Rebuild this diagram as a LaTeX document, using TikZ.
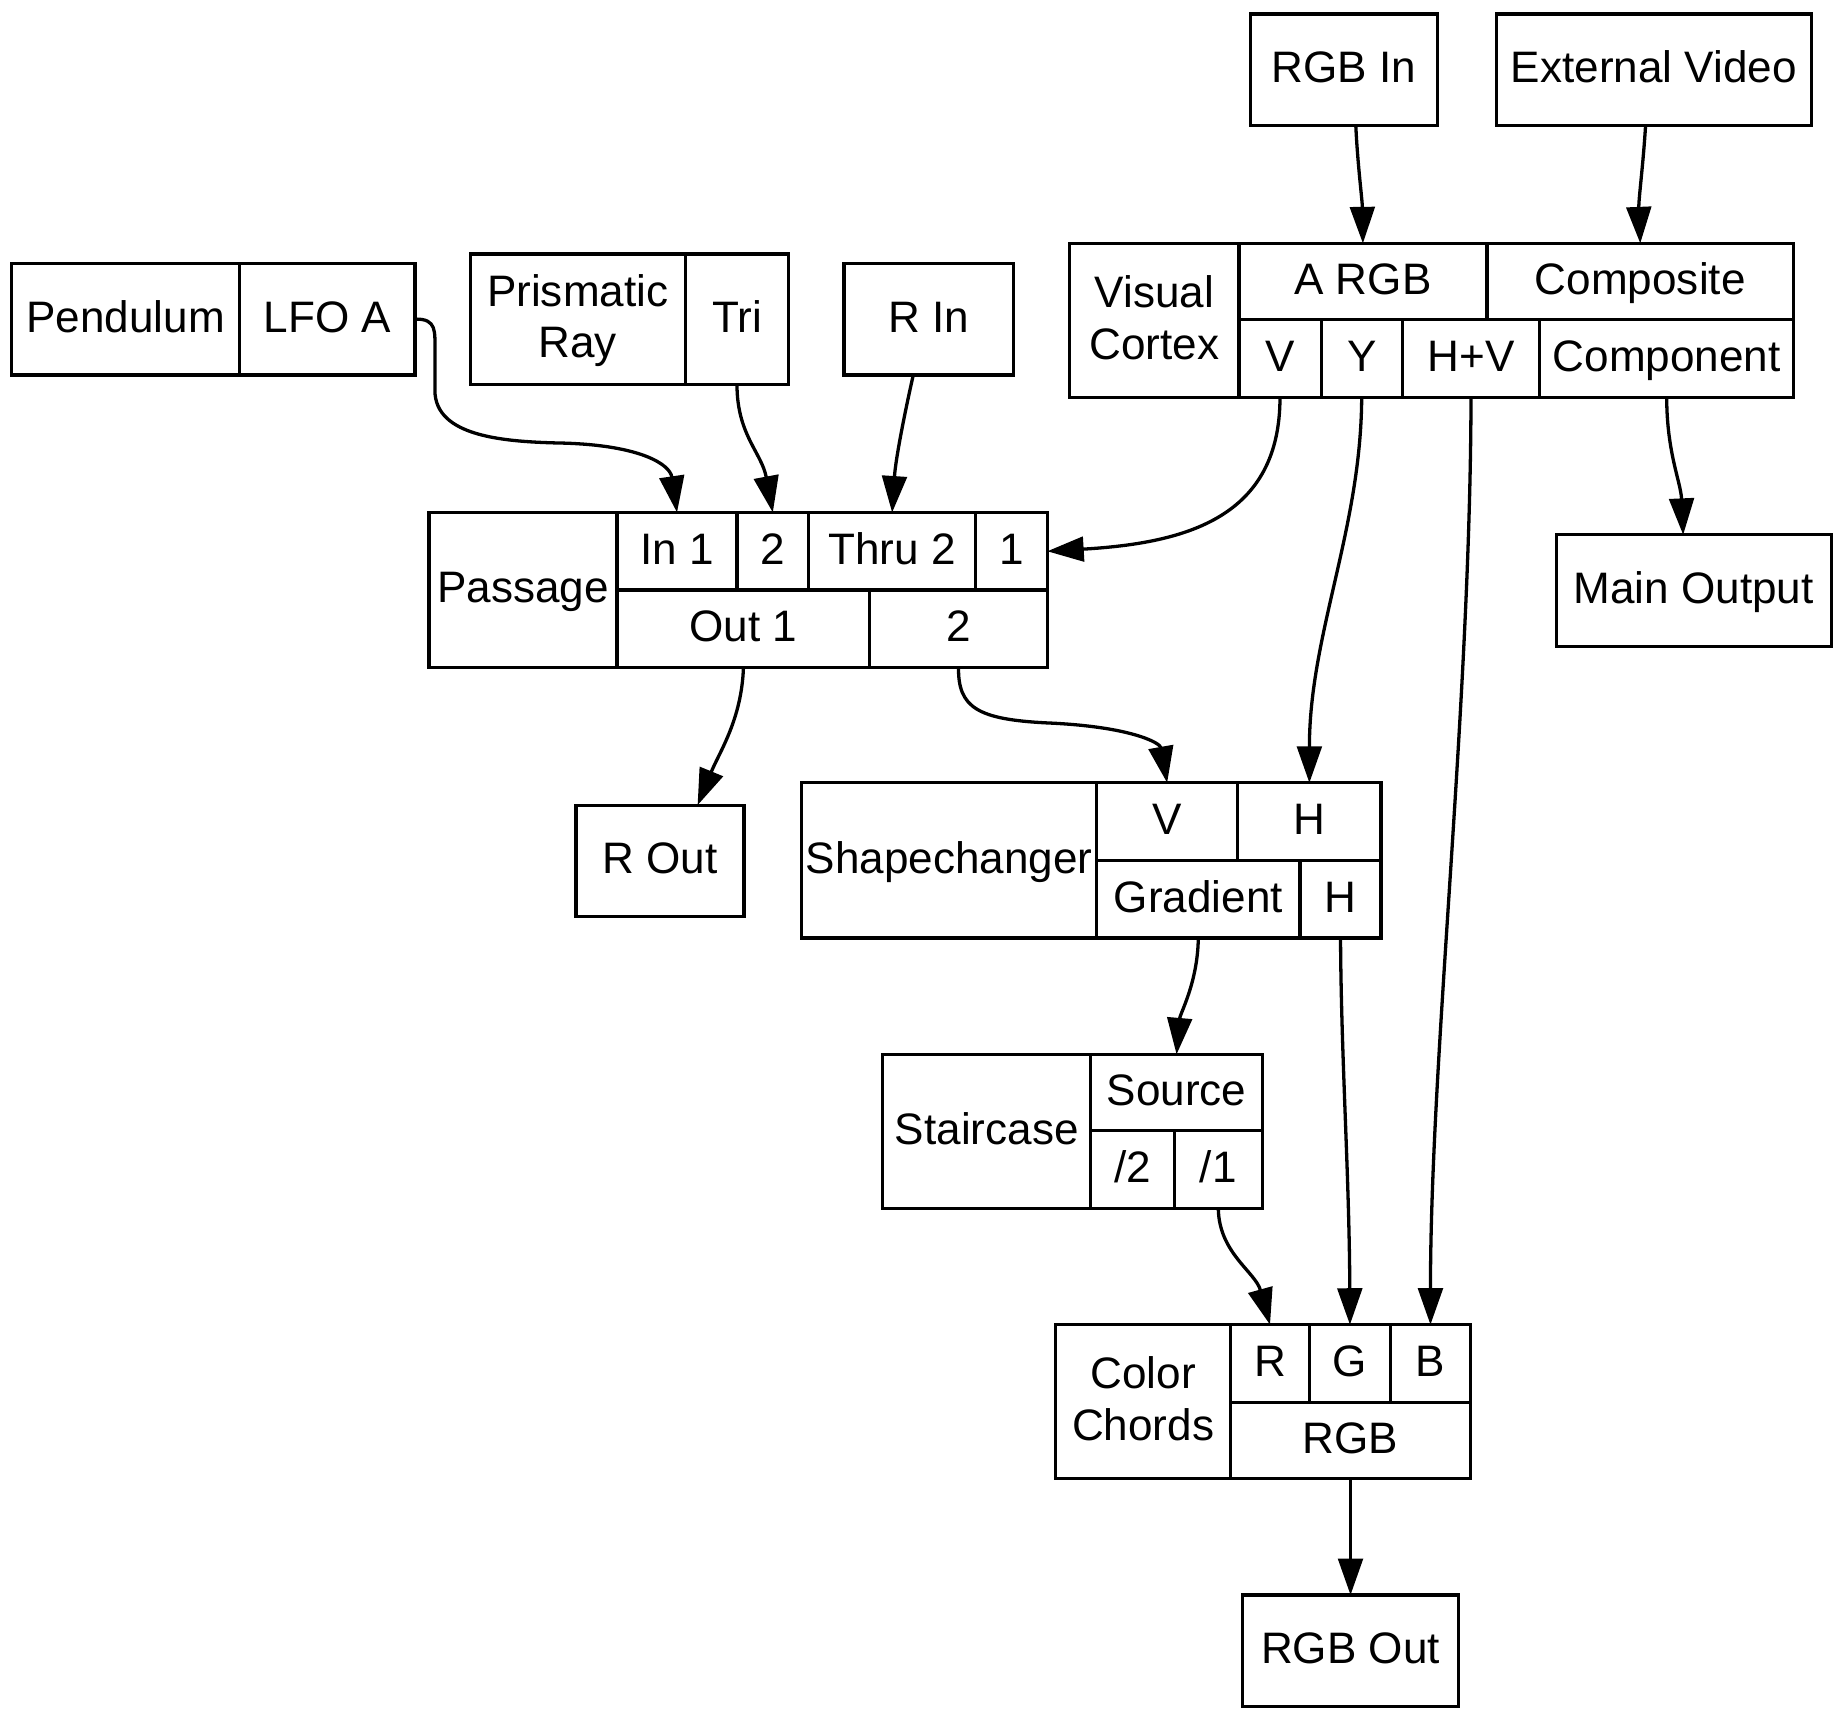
\documentclass[tikz,border=0pt]{standalone}
\usepackage{fontspec}
\setmainfont{Liberation Sans}
\usetikzlibrary{arrows.meta}
\tikzset{
  cell/.style={draw, line width=2.8pt, inner sep=0pt, outer sep=0pt, align=center,
    font=\fontsize{37.5pt}{44pt}\selectfont, text height=27pt, text depth=5pt},
  mcell/.style={draw, line width=2.8pt, inner sep=0pt, outer sep=0pt, align=center,
    font=\fontsize{37.5pt}{44pt}\selectfont, text height=71pt, text depth=5pt},
  edge/.style={line width=2.8pt, -{Triangle[length=31pt,width=21pt]}}
}
\newcommand\rcell[6]{\node[cell, minimum width=#4pt-#2pt, minimum height=#5pt-#3pt]
  (#1) at ({(#2+#4)/2},{(#3+#5)/2}) {#6};}
\newcommand\mcell[6]{\node[mcell, minimum width=#4pt-#2pt, minimum height=#5pt-#3pt]
  (#1) at ({(#2+#4)/2},{(#3+#5)/2}) {#6};}
\begin{document}
\begin{tikzpicture}[x=1pt,y=-1pt]
\fill[white] (0,0) rectangle (1568,1464);
\useasboundingbox (0,0) rectangle (1568,1464);
% nodes
\rcell{rgbin}{1064}{12}{1223}{107}{RGB In}
\rcell{extvid}{1273}{12}{1541}{107}{External Video}
\rcell{pend}{10}{224}{204}{319}{Pendulum}
\rcell{lfoa}{204}{224}{353}{319}{LFO A}
\mcell{prism}{400}{216}{583}{327}{Prismatic\\Ray}
\rcell{tri}{583}{216}{671}{327}{Tri}
\rcell{rin}{718}{224}{862}{319}{R In}
\mcell{vc}{910}{207}{1054}{338}{Visual\\Cortex}
\rcell{vcargb}{1054}{207}{1265}{272}{A RGB}
\rcell{vccomp}{1265}{207}{1526}{272}{Composite}
\rcell{vcv}{1054}{272}{1124}{338}{V}
\rcell{vcy}{1124}{272}{1193}{338}{Y}
\rcell{vchv}{1193}{272}{1310}{338}{H+V}
\rcell{vccompo}{1310}{272}{1526}{338}{Component}
\rcell{pass}{365}{436}{525}{568}{Passage}
\rcell{passin}{525}{436}{627}{502}{In 1}
\rcell{passintwo}{627}{436}{688}{502}{2}
\rcell{passthru}{688}{436}{830}{502}{Thru 2}
\rcell{passthruone}{830}{436}{891}{502}{1}
\rcell{passout}{525}{502}{740}{568}{Out 1}
\rcell{passouttwo}{740}{502}{891}{568}{2}
\rcell{mainout}{1324}{455}{1558}{550}{Main Output}
\rcell{rout}{490}{685}{633}{780}{R Out}
\rcell{shape}{682}{666}{933}{798}{Shapechanger}
\rcell{shapev}{933}{666}{1053}{732}{V}
\rcell{shapeh}{1053}{666}{1175}{732}{H}
\rcell{shapegrad}{933}{732}{1106}{798}{Gradient}
\rcell{shapehout}{1106}{732}{1175}{798}{H}
\rcell{stair}{751}{897}{928}{1028}{Staircase}
\rcell{stairsrc}{928}{897}{1074}{962}{Source}
\rcell{stairtwo}{928}{962}{999}{1028}{/2}
\rcell{stairone}{999}{962}{1074}{1028}{/1}
\mcell{cc}{898}{1127}{1047}{1258}{Color\\Chords}
\rcell{ccr}{1047}{1127}{1114}{1193}{R}
\rcell{ccg}{1114}{1127}{1183}{1193}{G}
\rcell{ccb}{1183}{1127}{1251}{1193}{B}
\rcell{ccrgb}{1047}{1193}{1251}{1258}{RGB}
\rcell{rgbout}{1057}{1357}{1241}{1452}{RGB Out}
% edges
\draw[edge] ([xshift=10pt]rgbin.south) .. controls (1155,140) and (1159,170) .. (vcargb.north);
\draw[edge] ([xshift=-7pt]extvid.south) .. controls (1398,140) and (1394,170) .. (vccomp.north);
\draw[edge] (lfoa.east) .. controls (372,271) and (370,282) .. (370,300) -- (370,332)
  .. controls (370,372) and (430,376) .. (480,377) .. controls (545,379) and (570,395) .. (passin.north);
\draw[edge] (tri.south) .. controls (627,370) and (648,385) .. (passintwo.north);
\draw[edge] ([xshift=-13pt]rin.south) .. controls (770,350) and (762,390) .. (passthru.north);
\draw[edge] (vcv.south) .. controls (1089,440) and (1010,462) .. (passthruone.east);
\draw[edge] (vcy.south) .. controls (1158,450) and (1114,540) .. (shapeh.north);
\draw[edge] (vchv.south) .. controls (1251,600) and (1217,900) .. (ccb.north);
\draw[edge] (vccompo.south) .. controls (1418,385) and (1430,410) .. ([xshift=-9pt]mainout.north);
\draw[edge] (passout.south) .. controls (631,612) and (612,640) .. ([xshift=32pt]rout.north);
\draw[edge] (passouttwo.south) .. controls (815,602) and (832,612) .. (890,615)
  .. controls (962,618) and (987,632) .. (shapev.north);
\draw[edge] (shapegrad.south) .. controls (1019,836) and (1004,862) .. (stairsrc.north);
\draw[edge] (shapehout.south) .. controls (1141,900) and (1148,1000) .. (ccg.north);
\draw[edge] (stairone.south) .. controls (1037,1066) and (1068,1082) .. (ccr.north);
\draw[edge] (ccrgb.south) -- (rgbout.north);
\end{tikzpicture}
\end{document}
